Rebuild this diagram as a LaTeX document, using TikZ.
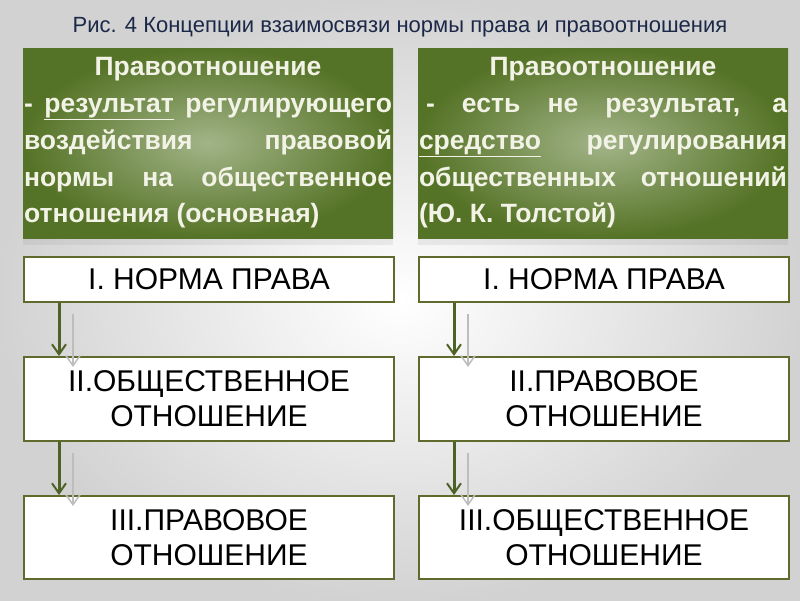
\documentclass[tikz,border=0pt]{standalone}
\usepackage{fontspec}
\setmainfont{Liberation Sans}
\usetikzlibrary{calc,arrows.meta,shadows}
\definecolor{titleblue}{HTML}{1B2848}
\definecolor{greenlight}{HTML}{A2B488}
\definecolor{greendark}{HTML}{557326}
\definecolor{headtext}{HTML}{F2F3E6}
\definecolor{oliveline}{HTML}{5E6B2C}
\definecolor{arrowgreen}{HTML}{4E6228}
\definecolor{arrowgray}{HTML}{BDBDBD}

\begin{document}
\begin{tikzpicture}[x=1pt,y=-1pt,
    headbox/.style={rectangle, minimum width=370pt, minimum height=190pt, inner sep=0pt,
        text width=368pt, align=justify, shading=radial, inner color=greenlight, outer color=greendark,
        text=headtext, font=\bfseries\fontsize{26.5}{36.7}\selectfont,
        drop shadow={opacity=0.12, shadow xshift=0pt, shadow yshift=-7pt}},
    stagebox/.style={rectangle, draw=oliveline, line width=2pt, fill=white, minimum width=370pt,
        align=center, text=black, font=\fontsize{30}{35}\selectfont},
    mainarrow/.style={draw=arrowgreen, line width=3pt, -{Straight Barb[length=10pt,width=14pt,line width=2pt]}},
    shadowarrow/.style={draw=arrowgray, line width=2pt, -{Straight Barb[length=10pt,width=14pt,line width=1.5pt]}}]
    \useasboundingbox (0,0) rectangle (800,600);
    \shade[inner color=white, outer color=gray!35] (0,0) rectangle (800,600);

    \node (title) at (400,27) [text=titleblue, font=\fontsize{22}{26}\selectfont]
        {Рис. 4 Концепции взаимосвязи нормы права и правоотношения};

    \node (headLeft) at (208,143) [headbox] {%
        \makebox[\linewidth][c]{Правоотношение}\\
        \makebox[\linewidth][s]{- \underline{результат} регулирующего}\\
        \makebox[\linewidth][s]{воздействия правовой}\\
        \makebox[\linewidth][s]{нормы на общественное}\\
        \makebox[\linewidth][l]{отношения (основная)}};
    \node (headRight) at (603,143) [headbox] {%
        \makebox[\linewidth][c]{Правоотношение}\\
        \hspace*{7pt}\makebox[\dimexpr\linewidth-7pt][s]{- есть не результат, а}\\
        \makebox[\linewidth][s]{\underline{средство} регулирования}\\
        \makebox[\linewidth][s]{общественных отношений}\\
        \makebox[\linewidth][l]{(Ю. К. Толстой)}};

    \node (normLeft) at (209,279.5) [stagebox, minimum height=45pt] {I. НОРМА ПРАВА};
    \node (socLeft) at (209,399) [stagebox, minimum height=84pt] {II.ОБЩЕСТВЕННОЕ\\ОТНОШЕНИЕ};
    \node (legLeft) at (209,537.5) [stagebox, minimum height=83pt] {III.ПРАВОВОЕ\\ОТНОШЕНИЕ};
    \node (normRight) at (604,279.5) [stagebox, minimum height=45pt] {I. НОРМА ПРАВА};
    \node (legRight) at (604,399) [stagebox, minimum height=84pt] {II.ПРАВОВОЕ\\ОТНОШЕНИЕ};
    \node (socRight) at (604,537.5) [stagebox, minimum height=83pt] {III.ОБЩЕСТВЕННОЕ\\ОТНОШЕНИЕ};

    \draw[shadowarrow] ($(normLeft.south west)+(50,11)$) -- ($(socLeft.north west)+(50,11)$);
    \draw[mainarrow] ($(normLeft.south west)+(36,0)$) -- ($(socLeft.north west)+(36,0)$);
    \draw[shadowarrow] ($(socLeft.south west)+(50,11)$) -- ($(legLeft.north west)+(50,11)$);
    \draw[mainarrow] ($(socLeft.south west)+(36,0)$) -- ($(legLeft.north west)+(36,0)$);
    \draw[shadowarrow] ($(normRight.south west)+(50,11)$) -- ($(legRight.north west)+(50,11)$);
    \draw[mainarrow] ($(normRight.south west)+(36,0)$) -- ($(legRight.north west)+(36,0)$);
    \draw[shadowarrow] ($(legRight.south west)+(50,11)$) -- ($(socRight.north west)+(50,11)$);
    \draw[mainarrow] ($(legRight.south west)+(36,0)$) -- ($(socRight.north west)+(36,0)$);
\end{tikzpicture}
\end{document}
